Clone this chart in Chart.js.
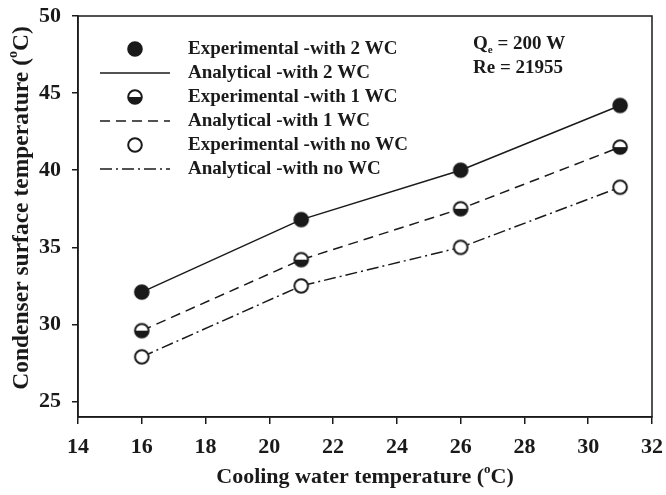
<!DOCTYPE html>
<html>
<head>
<meta charset="utf-8">
<script src="https://cdn.jsdelivr.net/npm/chart.js@4.4.1/dist/chart.umd.min.js"></script>
<style>
  html, body { margin: 0; padding: 0; background: #fff; }
  #wrap { width: 666px; height: 495px; }
</style>
</head>
<body>
<div id="wrap"><canvas id="chart"></canvas></div>
<script>
// cooling water temperature (°C) and condenser surface temperature (°C)
const waterTemps = [16, 21, 26, 31];
const twoWC = [32.1, 36.8, 40.0, 44.2];
const oneWC = [29.6, 34.2, 37.5, 41.5];
const noWC = [27.9, 32.5, 35.0, 38.9];
const xTicks = [14, 16, 18, 20, 22, 24, 26, 28, 30, 32];
const yTicks = [25, 30, 35, 40, 45, 50];

const SERIF = "'Liberation Serif', 'Times New Roman', serif";
const INK = '#1a1a1a';

// marker images: filled, half filled (lower half black) and open circle
function makeMarker(kind) {
  const c = document.createElement('canvas');
  c.width = 18; c.height = 18;
  const g = c.getContext('2d');
  const r = 6.8;
  g.beginPath();
  g.arc(9, 9, r, 0, Math.PI * 2);
  g.fillStyle = kind === 'filled' ? INK : '#fff';
  g.fill();
  if (kind === 'half') {
    g.beginPath();
    g.arc(9, 9, r, 0, Math.PI);
    g.closePath();
    g.fillStyle = INK;
    g.fill();
  }
  g.beginPath();
  g.arc(9, 9, r, 0, Math.PI * 2);
  g.lineWidth = 2;
  g.strokeStyle = INK;
  g.stroke();
  return c;
}
const markers = { filled: makeMarker('filled'), half: makeMarker('half'), open: makeMarker('open') };

const dashes = { solid: [], dash: [10, 6], dashDot: [12, 4, 2, 4] };

const toPoints = ys => waterTemps.map((x, i) => ({ x, y: ys[i] }));

function lineSet(label, ys, dash) {
  return {
    label, data: toPoints(ys), showLine: true, borderColor: INK, borderWidth: 1.5,
    borderDash: dash, pointRadius: 0, pointHoverRadius: 0, order: 2
  };
}
function pointSet(label, ys, img) {
  return {
    label, data: toPoints(ys), showLine: false, pointStyle: img, pointRadius: 9, order: 1
  };
}

const legendRows = [
  { text: 'Experimental -with 2 WC', marker: 'filled' },
  { text: 'Analytical -with 2 WC', dash: 'solid' },
  { text: 'Experimental -with 1 WC', marker: 'half' },
  { text: 'Analytical -with 1 WC', dash: 'dash' },
  { text: 'Experimental -with no WC', marker: 'open' },
  { text: 'Analytical -with no WC', dash: 'dashDot' }
];

// text runs with optional superscript / subscript pieces
function drawRuns(ctx, runs, x, y, size, align) {
  const widths = runs.map(r => {
    ctx.font = `bold ${r.sub || r.sup ? Math.round(size * 0.6) : size}px ${SERIF}`;
    return ctx.measureText(r.t).width;
  });
  const total = widths.reduce((a, b) => a + b, 0);
  let cx = align === 'center' ? x - total / 2 : x;
  runs.forEach((r, i) => {
    ctx.font = `bold ${r.sub || r.sup ? Math.round(size * 0.6) : size}px ${SERIF}`;
    const dy = r.sup ? -size * 0.35 : r.sub ? size * 0.3 : 0;
    ctx.fillText(r.t, cx, y + dy);
    cx += widths[i];
  });
}

const decorations = {
  id: 'decorations',
  afterDraw(chart) {
    const { ctx, chartArea: a } = chart;
    ctx.save();
    // frame
    ctx.strokeStyle = INK;
    ctx.lineWidth = 1.5;
    ctx.strokeRect(a.left, a.top, a.right - a.left, a.bottom - a.top);

    ctx.fillStyle = INK;
    ctx.textBaseline = 'middle';
    ctx.textAlign = 'left';

    // legend
    legendRows.forEach((row, i) => {
      const y = 49 + i * 24;
      if (row.marker) {
        ctx.drawImage(markers[row.marker], 135 - 9, y - 9);
      } else {
        ctx.save();
        ctx.setLineDash(dashes[row.dash]);
        ctx.lineWidth = 1.5;
        ctx.beginPath();
        ctx.moveTo(100, y);
        ctx.lineTo(170, y);
        ctx.stroke();
        ctx.restore();
      }
      ctx.font = `bold 19px ${SERIF}`;
      ctx.fillText(row.text, 188, y);
    });

    // operating conditions
    drawRuns(ctx, [{ t: 'Q' }, { t: 'e', sub: true }, { t: ' = 200 W' }], 473, 44, 19, 'left');
    drawRuns(ctx, [{ t: 'Re = 21955' }], 473, 68, 19, 'left');

    // axis titles
    drawRuns(ctx, [{ t: 'Cooling water temperature (' }, { t: 'o', sup: true }, { t: 'C)' }],
      (a.left + a.right) / 2, 477, 22, 'center');
    ctx.translate(22, 208);
    ctx.rotate(-Math.PI / 2);
    drawRuns(ctx, [{ t: 'Condenser surface temperature (' }, { t: 'o', sup: true }, { t: 'C)' }],
      0, 0, 23.5, 'center');
    ctx.restore();
  }
};

const tickFont = { family: SERIF, size: 22, weight: 'bold' };

new Chart(document.getElementById('chart'), {
  type: 'scatter',
  data: {
    datasets: [
      pointSet('Experimental -with 2 WC', twoWC, markers.filled),
      lineSet('Analytical -with 2 WC', twoWC, dashes.solid),
      pointSet('Experimental -with 1 WC', oneWC, markers.half),
      lineSet('Analytical -with 1 WC', oneWC, dashes.dash),
      pointSet('Experimental -with no WC', noWC, markers.open),
      lineSet('Analytical -with no WC', noWC, dashes.dashDot)
    ]
  },
  options: {
    responsive: true,
    maintainAspectRatio: false,
    animation: false,
    layout: { padding: { top: 16, right: 14, left: 0, bottom: 0 } },
    plugins: { legend: { display: false }, tooltip: { enabled: false } },
    scales: {
      x: {
        type: 'linear', min: 14, max: 32,
        afterBuildTicks: s => { s.ticks = xTicks.map(v => ({ value: v })); },
        afterFit: s => { s.height = 78; s.paddingLeft = 0; s.paddingRight = 0; },
        ticks: { font: tickFont, color: INK, padding: 10, autoSkip: false, maxRotation: 0 },
        grid: { drawOnChartArea: false, drawTicks: true, tickLength: 7, color: INK, lineWidth: 1.5 },
        border: { color: INK, width: 1.5 }
      },
      y: {
        type: 'linear', min: 24, max: 50,
        afterBuildTicks: s => { s.ticks = yTicks.map(v => ({ value: v })); },
        afterFit: s => { s.width = 78; s.paddingTop = 0; s.paddingBottom = 0; },
        ticks: { font: tickFont, color: INK, padding: 11 },
        grid: { drawOnChartArea: false, drawTicks: true, tickLength: 6, color: INK, lineWidth: 1.5 },
        border: { color: INK, width: 1.5 }
      }
    }
  },
  plugins: [decorations]
});
</script>
</body>
</html>
